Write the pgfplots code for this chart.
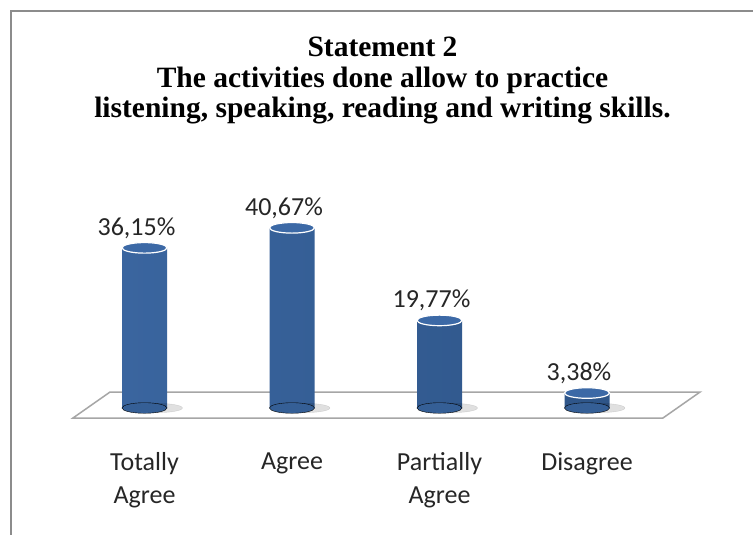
\documentclass[border=0pt]{standalone}
\usepackage{pgfplots}
\pgfplotsset{compat=1.18}
\usepackage{fontspec}
\setmainfont{Carlito}
\newfontfamily\titlefont{Liberation Serif}
\definecolor{barL}{HTML}{3A659F}
\definecolor{barM}{HTML}{5284C6}
\definecolor{barR}{HTML}{2E5588}
\definecolor{barTop}{HTML}{3C69A6}
\definecolor{floorline}{HTML}{A6A6A6}
\definecolor{frame}{HTML}{8C8C8C}
\begin{document}
\begin{tikzpicture}[x=1pt,y=1pt]
\useasboundingbox (0,0) rectangle (753,535);
\fill[white] (0,0) rectangle (753,535);
\draw[frame, line width=2pt] (11,-10) -- (11,524) -- (770,524);
\node[align=center, font=\titlefont\bfseries\fontsize{29.5}{30.5}\selectfont] at (382.5,454.5)
  {Statement 2\\The activities done allow to practice\\listening, speaking, reading and writing skills.};
\begin{axis}[at={(56pt,82.7pt)}, anchor=south west,
  x=147.5pt, y=4.43pt,
  xmin=-0.6, xmax=3.9, ymin=-10, ymax=46,
  clip=false, axis line style={draw=none},
  ytick=\empty, xtick={0,1,2,3},
  xticklabels={Totally\\Agree, Agree, Partially\\Agree, Disagree},
  major tick length=0pt,
  xticklabel style={align=center, anchor=north, inner sep=0pt, text=black!85,
    font=\fontsize{26}{33}\selectfont}]
% floor
\addplot[draw=floorline, line width=1.5pt, fill=white]
  coordinates {(-0.485,-2.26) (-0.234,3.6) (3.766,3.6) (3.515,-2.26)} -- cycle;
% shadows
\addplot[only marks, mark=*, mark size=26pt,
  mark options={xshift=12pt, yscale=0.18, fill=black, draw=none, opacity=0.12}]
  coordinates {(0,0) (1,0) (2,0) (3,0)};
% bottoms
\addplot[only marks, mark=*, mark size=22.5pt,
  mark options={yscale=0.235, draw=none, fill=barL!60!barR}]
  coordinates {(0,0) (1,0) (2,0) (3,0)};
% bars
\addplot[ybar, bar width=45pt, bar shift=0pt, draw=none,
  left color=barL, middle color=barM, right color=barR]
  coordinates {(0,36.15) (1,40.67) (2,19.77) (3,3.38)};
% tops with labels
\addplot[only marks, mark=*, mark size=22.5pt,
  mark options={yscale=0.235, fill=barTop, draw=white, line width=1.2pt},
  point meta=explicit symbolic, nodes near coords,
  nodes near coords style={font=\fontsize{26}{30}\selectfont, anchor=center,
    yshift=20pt, xshift=-8pt, text=black!85}]
  coordinates {(0,36.15) [36,15\%] (1,40.67) [40,67\%] (2,19.77) [19,77\%] (3,3.38) [3,38\%]};
\end{axis}
\end{tikzpicture}
\end{document}
